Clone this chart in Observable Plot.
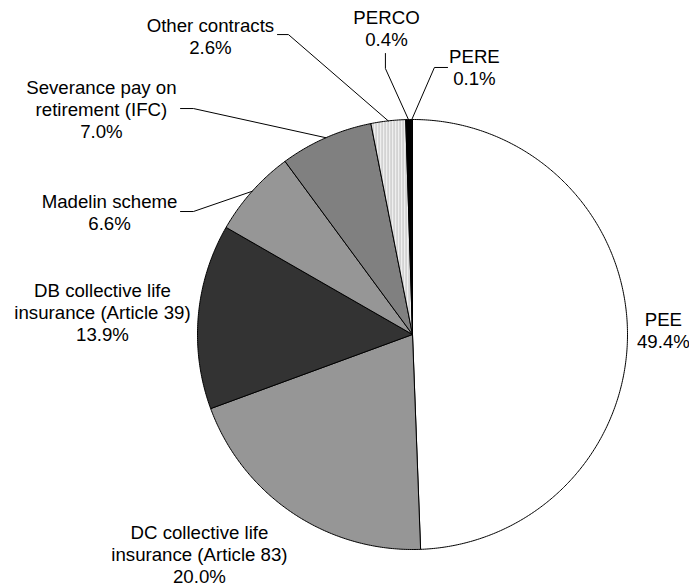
<!DOCTYPE html>
<html>
<head>
<meta charset="utf-8">
<script src="https://cdn.jsdelivr.net/npm/d3@7"></script>
<script src="https://cdn.jsdelivr.net/npm/@observablehq/plot@0.6"></script>
<style>
  body { margin: 0; background: #fff; }
  #chart svg { display: block; }
</style>
</head>
<body>
<div id="chart"></div>
<script>
// ---- Data ----
const categories = [
  "PEE",
  "DC collective life\ninsurance (Article 83)",
  "DB collective life\ninsurance (Article 39)",
  "Madelin scheme",
  "Severance pay on\nretirement (IFC)",
  "Other contracts",
  "PERCO",
  "PERE"
];
const shares = [49.4, 20.0, 13.9, 6.6, 7.0, 2.6, 0.4, 0.1];

// ---- Styles ----
const sliceFills = ["#ffffff", "#969696", "#333333", "#969696", "#808080", "url(#stripes)", "#000000", "#000000"];

// ---- Layout (pixel geometry of the figure) ----
const W = 689, H = 587, CX = 412, CY = 334, R = 215;
// label centres, in pie-radius units relative to the centre (y up)
const labelX = [1.167, -0.991, -1.442, -1.409, -1.447, -0.940, -0.121, 0.288];
const labelY = [0.021, -1.022, 0.106, 0.570, 1.047, 1.388, 1.426, 1.244];
// leader-line elbows (null = no leader)
const leaderPts = [
  null, null, null,
  [[-1.079, 0.572], [-1.019, 0.572]],
  [[-1.079, 1.051], [-1.019, 1.051]],
  [[-0.628, 1.395], [-0.577, 1.395]],
  [[-0.126, 1.307], [-0.126, 1.237]],
  [[0.163, 1.242], [0.102, 1.242]]
];

// ---- Geometry from data ----
const total = d3.sum(shares);
let cum = 0;
const slices = shares.map((v, i) => {
  const a0 = 2 * Math.PI * cum / total;
  cum += v;
  const a1 = 2 * Math.PI * cum / total;
  return {i, name: categories[i], value: v, a0, a1, mid: (a0 + a1) / 2};
});

const marks = [];
for (const s of slices) {
  const n = Math.max(2, Math.ceil((s.a1 - s.a0) / (Math.PI / 360)));
  const pts = [{x: 0, y: 0}];
  for (let k = 0; k <= n; k++) {
    const a = s.a0 + (s.a1 - s.a0) * k / n;
    pts.push({x: Math.sin(a), y: Math.cos(a)});
  }
  pts.push({x: 0, y: 0});
  marks.push(Plot.line(pts, {x: "x", y: "y", fill: sliceFills[s.i], stroke: "#000", strokeWidth: 1, strokeLinejoin: "round"}));
}

// leaders
const leaderData = [];
slices.forEach(s => {
  const lp = leaderPts[s.i];
  if (!lp) return;
  lp.forEach(p => leaderData.push({z: s.i, x: p[0], y: p[1]}));
  leaderData.push({z: s.i, x: Math.sin(s.mid), y: Math.cos(s.mid)});
});
marks.push(Plot.line(leaderData, {x: "x", y: "y", z: "z", stroke: "#000", strokeWidth: 1}));

// labels
const labels = slices.map(s => ({
  x: labelX[s.i], y: labelY[s.i],
  text: s.name + "\n" + s.value.toFixed(1) + "%"
}));
marks.push(Plot.text(labels, {
  x: "x", y: "y", text: "text",
  fill: "#000", fontSize: 18.67, lineHeight: 1.18,
  textAnchor: "middle", lineAnchor: "middle"
}));

const chart = Plot.plot({
  width: W, height: H,
  margin: 0,
  x: {domain: [-CX / R, (W - CX) / R], range: [0, W], axis: null},
  y: {domain: [-(H - CY) / R, CY / R], range: [H, 0], axis: null},
  style: {background: "#fff", fontFamily: "'Liberation Sans', Arial, Helvetica, sans-serif", fontSize: "18.67px"},
  marks
});

// stripe pattern for "Other contracts"
const ns = "http://www.w3.org/2000/svg";
const defs = document.createElementNS(ns, "defs");
defs.innerHTML = '<pattern id="stripes" patternUnits="userSpaceOnUse" width="3" height="10">' +
  '<rect width="3" height="10" fill="#f4f4f4"/><rect width="1.2" height="10" fill="#bdbdbd"/></pattern>';
chart.insertBefore(defs, chart.firstChild);

document.getElementById("chart").appendChild(chart);
</script>
</body>
</html>
